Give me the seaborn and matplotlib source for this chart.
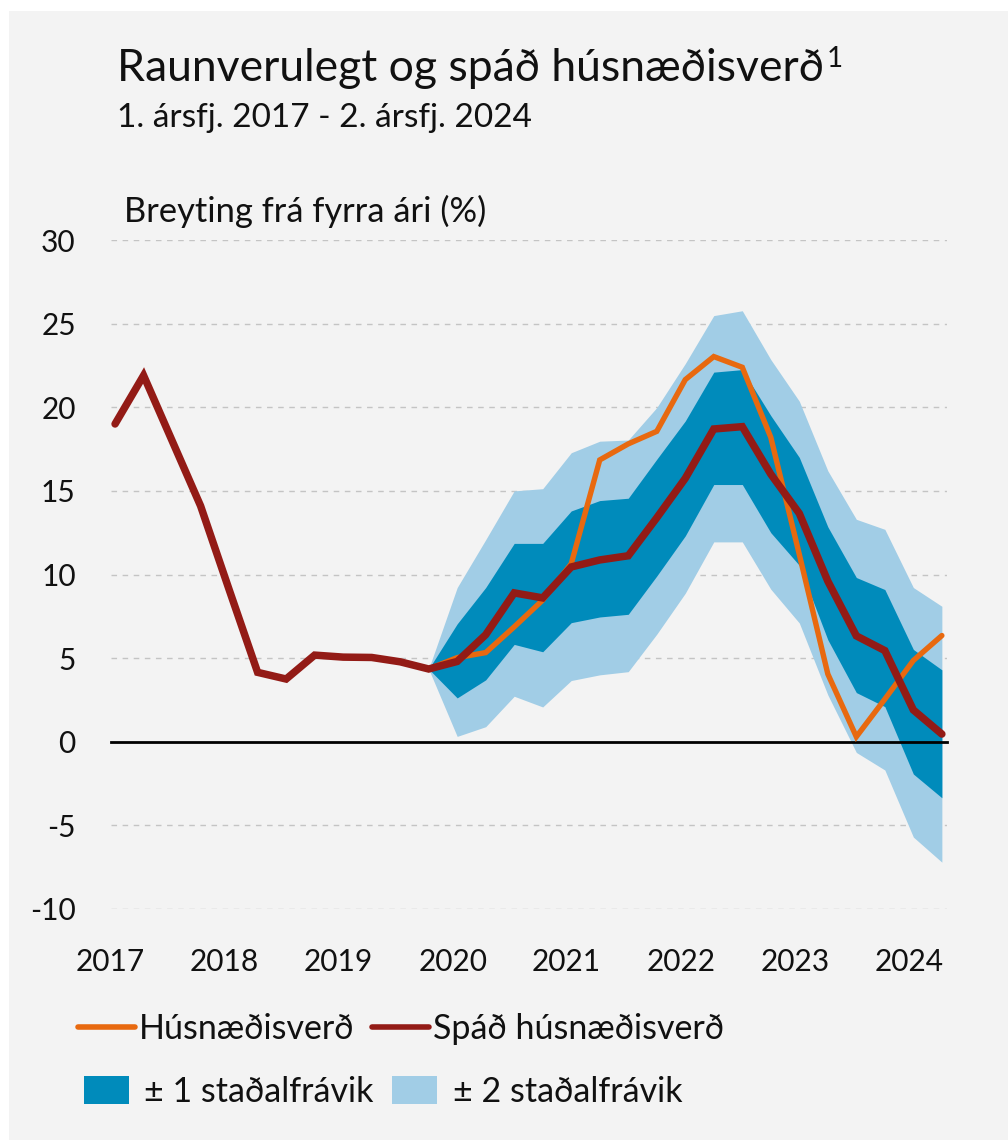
import numpy as np
import pandas as pd
import matplotlib
matplotlib.use("Agg")
import matplotlib.pyplot as plt
from matplotlib.patches import Rectangle, Patch
from matplotlib.lines import Line2D
import seaborn as sns

# Quarterly data, 1st quarter 2017 - 2nd quarter 2024
years = [2017] * 4 + [2018] * 4 + [2019] * 4 + [2020] * 4 + [2021] * 4 + [2022] * 4 + [2023] * 4 + [2024] * 2
quarters = [1, 2, 3, 4] * 7 + [1, 2]

# Forecast house price growth (% y/y)
spad = [19.0, 21.9, 18.0, 14.1, 9.1, 4.15, 3.75, 5.18, 5.06, 5.04, 4.78, 4.35,
        4.8, 6.4, 8.9, 8.6, 10.45, 10.87, 11.12, 13.39, 15.75, 18.7, 18.84, 16.0,
        13.65, 9.6, 6.33, 5.45, 1.9, 0.46]

# Actual house price growth, from 4th quarter 2019
husn = [4.35, 5.03, 5.33, 6.87, 8.47, 10.64, 16.85, 17.81, 18.56, 21.65, 23.03,
        22.39, 18.2, 11.2, 4.05, 0.3, 2.55, 4.86, 6.35]

# Forecast uncertainty bands, from 4th quarter 2019
upper2 = [4.35, 9.22, 12.08, 15.0, 15.13, 17.28, 17.97, 18.04, 19.98, 22.61, 25.48,
          25.77, 22.85, 20.36, 16.2, 13.3, 12.7, 9.22, 8.1]
upper1 = [4.35, 7.05, 9.22, 11.86, 11.86, 13.8, 14.42, 14.56, 16.89, 19.18, 22.1,
          22.25, 19.5, 17.0, 12.85, 9.82, 9.1, 5.52, 4.3]
lower1 = [4.35, 2.62, 3.7, 5.82, 5.38, 7.12, 7.46, 7.62, 9.91, 12.31, 15.38,
          15.38, 12.5, 10.55, 6.1, 2.94, 2.1, -1.93, -3.35]
lower2 = [4.35, 0.32, 0.9, 2.72, 2.08, 3.66, 4.0, 4.19, 6.43, 8.88, 11.95,
          11.95, 9.12, 7.1, 2.8, -0.64, -1.69, -5.7, -7.2]

year_ticks = [2017, 2018, 2019, 2020, 2021, 2022, 2023, 2024]
y_ticks = [-10, -5, 0, 5, 10, 15, 20, 25, 30]

# colours
C_ORANGE = "#E8690F"
C_RED = "#931B16"
C_DARK = "#008BBB"
C_LIGHT = "#A1CDE6"
C_BG = "#F3F3F3"

sns.set_theme(style="white")
FONT = ["Lato", "DejaVu Sans"]
plt.rcParams["font.family"] = FONT
plt.rcParams["text.color"] = "#111111"

# time axis in fractional years (points sit just after the start of each quarter)
t = np.array([y + (q - 1) / 4 + 0.04 for y, q in zip(years, quarters)])
df_spad = pd.DataFrame({"t": t, "v": spad})
n_fc = len(husn)
df_husn = pd.DataFrame({"t": t[-n_fc:], "v": husn})
tb = t[-n_fc:]

W, H = 1008, 1140
fig = plt.figure(figsize=(W / 100, H / 100), dpi=100, facecolor="white")
fig.add_artist(Rectangle((9 / W, 0), 1, 1 - 11 / H, transform=fig.transFigure,
                         facecolor=C_BG, edgecolor="none", zorder=-10))

ax = fig.add_axes([110.5 / W, 1 - 909 / H, (947 - 110.5) / W, (909 - 240) / H])
ax.set_facecolor("none")

ax.fill_between(tb, lower2, upper2, color=C_LIGHT, linewidth=0, zorder=1)
ax.fill_between(tb, lower1, upper1, color=C_DARK, linewidth=0, zorder=2)

sns.lineplot(data=df_husn, x="t", y="v", ax=ax, color=C_ORANGE, linewidth=3.9,
             zorder=4, solid_joinstyle="miter", solid_capstyle="round")
sns.lineplot(data=df_spad, x="t", y="v", ax=ax, color=C_RED, linewidth=5.4,
             zorder=5, solid_joinstyle="miter", solid_capstyle="round")

ax.set_xlim(2017, 2024.335)
ax.set_ylim(-10, 30)
ax.set_xlabel("")
ax.set_ylabel("")

# dashed gridlines
for yv in y_ticks:
    if yv != 0:
        ax.axhline(yv, color="#C4C4C4", linewidth=1.0, linestyle=(0, (4, 4)), zorder=0)

for s in ["left", "right", "top"]:
    ax.spines[s].set_visible(False)
ax.spines["bottom"].set_position(("data", 0))
ax.spines["bottom"].set_color("black")
ax.spines["bottom"].set_linewidth(2.0)
ax.spines["bottom"].set_zorder(3)
ax.set_xticks(year_ticks)
ax.tick_params(axis="x", direction="out", length=8, width=2.0, color="black",
               labelbottom=False)
ax.set_yticks(y_ticks)
ax.set_yticklabels([str(v) for v in y_ticks])
ax.tick_params(axis="y", length=0, pad=25, labelsize=21.5, labelcolor="#111111")
for lab in ax.get_yticklabels():
    lab.set_horizontalalignment("right")

# year labels at the bottom of the plot area
sec = ax.secondary_xaxis("bottom")
sec.set_xticks(year_ticks)
sec.set_xticklabels([str(y) for y in year_ticks])
sec.tick_params(axis="x", length=0, pad=28, labelsize=21.5, labelcolor="#111111")
sec.spines["bottom"].set_visible(False)

# titles
title = fig.text(117 / W, 1 - 81 / H, "Raunverulegt og spáð húsnæðisverð", fontsize=32,
                 ha="left", va="baseline")
renderer = fig.canvas.get_renderer()
bb = title.get_window_extent(renderer=renderer)
fig.text((bb.x1 + 3) / W, 1 - 67 / H, "1", fontsize=20, ha="left", va="baseline")
fig.text(117 / W, 1 - 127 / H, "1. ársfj. 2017 - 2. ársfj. 2024", fontsize=24,
         ha="left", va="baseline")
fig.text(124 / W, 1 - 222 / H, "Breyting frá fyrra ári (%)", fontsize=24.8,
         ha="left", va="baseline")

# legend
LEG_FS = 24.5
h_lines = [Line2D([], [], color=C_ORANGE, linewidth=4.0, solid_capstyle="round"),
           Line2D([], [], color=C_RED, linewidth=4.0, solid_capstyle="round")]
leg1 = fig.legend(h_lines, ["Húsnæðisverð", "Spáð húsnæðisverð"], ncol=2,
                  loc="center left", bbox_to_anchor=(78 / W, 1 - 1029 / H),
                  frameon=False, fontsize=LEG_FS, handlelength=1.68, handletextpad=0.12,
                  columnspacing=0.5, borderaxespad=0, borderpad=0)
h_patch = [Patch(facecolor=C_DARK, edgecolor="none"), Patch(facecolor=C_LIGHT, edgecolor="none")]
leg2 = fig.legend(h_patch, ["± 1 staðalfrávik", "± 2 staðalfrávik"], ncol=2,
                  loc="center left", bbox_to_anchor=(84 / W, 1 - 1092 / H),
                  frameon=False, fontsize=LEG_FS, handlelength=1.32, handleheight=0.9,
                  handletextpad=0.45, columnspacing=0.55, borderaxespad=0, borderpad=0)

fig.savefig("out.png", dpi=100, facecolor="white")
